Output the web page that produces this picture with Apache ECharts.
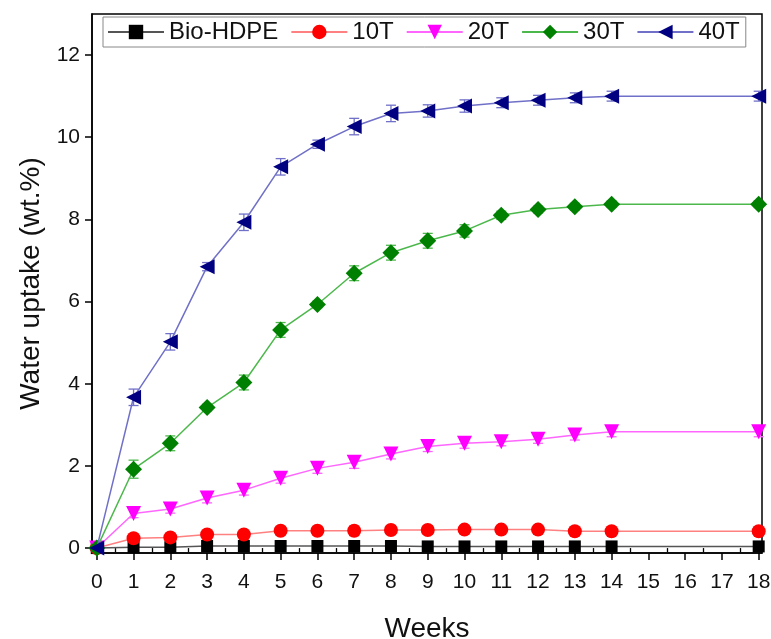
<!DOCTYPE html>
<html>
<head>
<meta charset="utf-8">
<script src="https://cdn.jsdelivr.net/npm/echarts@6/dist/echarts.min.js"></script>
<style>html,body{margin:0;padding:0;background:#fff}#c{width:771px;height:639px}</style>
</head>
<body>
<div id="c"></div>
<script>
var weeks = [0,1,2,3,4,5,6,7,8,9,10,11,12,13,14,18];
var xTicks = [0,1,2,3,4,5,6,7,8,9,10,11,12,13,14,15,16,17,18];
var xMinorTicks = [0.5,1.5,2.5,3.5,4.5,5.5,6.5,7.5,8.5,9.5,10.5,11.5,12.5,13.5,14.5,15.5,16.5,17.5];
var yTicks = [0,2,4,6,8,10,12];
var names = ['Bio-HDPE','10T','20T','30T','40T'];

var hdpe = [0,0.02,0.02,0.05,0.05,0.05,0.05,0.05,0.05,0.04,0.04,0.04,0.04,0.04,0.04,0.04];
var t10  = [0,0.24,0.26,0.33,0.33,0.42,0.42,0.42,0.44,0.44,0.45,0.45,0.45,0.41,0.41,0.41];
var t20  = [0,0.84,0.95,1.22,1.41,1.70,1.94,2.09,2.29,2.47,2.55,2.59,2.65,2.75,2.83,2.83];
var t30  = [0,1.92,2.55,3.42,4.03,5.31,5.93,6.69,7.19,7.48,7.72,8.10,8.24,8.31,8.37,8.37];
var t40  = [0,3.67,5.02,6.85,7.93,9.28,9.83,10.26,10.58,10.64,10.76,10.84,10.90,10.96,11.00,11.00];

var eHdpe = [0,0.01,0.01,0.01,0.01,0.01,0.01,0.01,0.01,0.01,0.01,0.01,0.01,0.01,0.01,0.01];
var e10   = [0,0.05,0.05,0.05,0.05,0.05,0.06,0.12,0.08,0.10,0.06,0.05,0.08,0.05,0.04,0.04];
var e20   = [0,0.10,0.10,0.12,0.12,0.12,0.12,0.15,0.12,0.12,0.12,0.10,0.10,0.12,0.12,0.12];
var e30   = [0,0.22,0.18,0.08,0.18,0.18,0.08,0.18,0.18,0.18,0.15,0.10,0.08,0.08,0.08,0.08];
var e40   = [0,0.20,0.20,0.10,0.20,0.20,0.10,0.20,0.20,0.15,0.15,0.12,0.12,0.12,0.12,0.12];

var allVals = [hdpe,t10,t20,t30,t40];
var allErr = [eHdpe,e10,e20,e30,e40];
var markerColors = ['#000000','#ff0000','#ff00ff','#008000','#000080'];
var lineColors = ['#555555','#ff8080','#ff66ff','#4cb84c','#7070c8'];
var symbols = ['rect','circle','triangle','diamond','triangle'];
var rotates = [0,0,180,0,90];
var sizes = [12,14,15,17,15];

var series = [];
for (var i = 0; i < 5; i++) {
  (function(i){
    var errData = weeks.map(function(w, k){ return [w, allVals[i][k], allErr[i][k]]; });
    series.push({
      type: 'custom',
      name: names[i] + '-err',
      z: 2,
      silent: true,
      data: errData,
      renderItem: function(params, api) {
        var x = api.value(0), m = api.value(1), e = api.value(2);
        var hi = api.coord([x, m + e]);
        var lo = api.coord([x, m - e]);
        var cw = 5;
        var st = {stroke: lineColors[i], lineWidth: 1.3};
        return {type: 'group', children: [
          {type: 'line', shape: {x1: hi[0], y1: hi[1], x2: lo[0], y2: lo[1]}, style: st},
          {type: 'line', shape: {x1: hi[0]-cw, y1: hi[1], x2: hi[0]+cw, y2: hi[1]}, style: st},
          {type: 'line', shape: {x1: lo[0]-cw, y1: lo[1], x2: lo[0]+cw, y2: lo[1]}, style: st}
        ]};
      }
    });
    series.push({
      type: 'line',
      name: names[i],
      z: 3 + i,
      data: weeks.map(function(w, k){ return [w, allVals[i][k]]; }),
      symbol: symbols[i],
      symbolSize: sizes[i],
      symbolRotate: rotates[i],
      showAllSymbol: true,
      lineStyle: {color: lineColors[i], width: 1.5},
      itemStyle: {color: markerColors[i]},
      emphasis: {disabled: true},
      animation: false
    });
  })(i);
}

var axisFont = 'Liberation Sans, Arial, sans-serif';
var option = {
  animation: false,
  backgroundColor: '#fff',
  grid: {left: 92, right: 9, top: 14, bottom: 86, containLabel: false, outerBoundsMode: 'none',
         show: true, borderColor: '#000', borderWidth: 1.5, backgroundColor: 'transparent'},
  legend: {
    data: names,
    left: 103, top: 17,
    padding: [3, 6, 3, 4],
    borderColor: '#888', borderWidth: 1,
    itemWidth: 56, itemHeight: 18, itemGap: 12,
    textStyle: {fontFamily: axisFont, fontSize: 24, color: '#111'}
  },
  xAxis: [{
    type: 'value', min: -0.13, max: 18.09,
    name: 'Weeks', nameLocation: 'middle', nameGap: 62,
    nameTextStyle: {fontFamily: axisFont, fontSize: 28, color: '#111'},
    splitLine: {show: false},
    axisLine: {show: true, onZero: false, lineStyle: {color: '#000', width: 1.5}},
    axisTick: {show: true, length: 7, lineStyle: {color: '#000', width: 1.5}, customValues: xTicks},
    axisLabel: {fontFamily: axisFont, fontSize: 21, color: '#111', margin: 19, customValues: xTicks}
  }, {
    type: 'value', min: -0.13, max: 18.09, position: 'bottom',
    splitLine: {show: false},
    axisLine: {show: false},
    axisTick: {show: true, length: 4, lineStyle: {color: '#000', width: 1.3}, customValues: xMinorTicks},
    axisLabel: {show: false, customValues: xMinorTicks}
  }],
  yAxis: {
    type: 'value', min: -0.12, max: 13.0,
    name: 'Water uptake (wt.%)', nameLocation: 'middle', nameGap: 47,
    nameTextStyle: {fontFamily: axisFont, fontSize: 28, color: '#111'},
    splitLine: {show: false},
    axisLine: {show: true, onZero: false, lineStyle: {color: '#000', width: 1.5}},
    axisTick: {show: true, length: 7, lineStyle: {color: '#000', width: 1.5}, customValues: yTicks},
    axisLabel: {fontFamily: axisFont, fontSize: 21, color: '#111', margin: 12, customValues: yTicks}
  },
  series: series
};
var chart = echarts.init(document.getElementById('c'), null, {renderer: 'canvas'});
chart.setOption(option);
</script>
</body>
</html>
